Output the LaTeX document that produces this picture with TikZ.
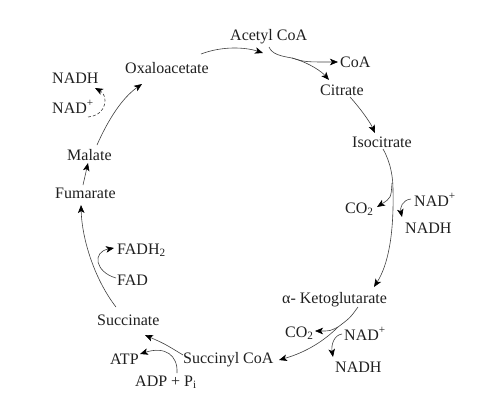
\documentclass[tikz,border=0pt]{standalone}
\usepackage{fontspec}
\setmainfont{Liberation Serif}
\usetikzlibrary{arrows.meta}
\begin{document}
\begin{tikzpicture}[x=1pt,y=-1pt,
  lbl/.style={anchor=base west,inner sep=0pt,text=black!88,font=\fontsize{16}{19}\selectfont},
  rxline/.style={draw=black!75,line width=0.6pt},
  rx/.style={rxline,-{Stealth[length=8pt,width=6.5pt,inset=2pt,color=black]}},
  rxdash/.style={rx,densely dashed}]
\useasboundingbox (0,0) rectangle (493,418);
% metabolites
\node[lbl] (acetyl) at (230,40) {Acetyl CoA};
\node[lbl] (oxa) at (125,73) {Oxaloacetate};
\node[lbl] (coa) at (340,67) {CoA};
\node[lbl] (cit) at (320,95) {Citrate};
\node[lbl] (iso) at (352,147) {Isocitrate};
\node[lbl] (nadA) at (414,206) {NAD\textsuperscript{+}};
\node[lbl] (coA) at (345,213) {CO\textsubscript{2}};
\node[lbl] (nadhA) at (405,233) {NADH};
\node[lbl] (keto) at (282,303) {α- Ketoglutarate};
\node[lbl] (coB) at (285,337) {CO\textsubscript{2}};
\node[lbl] (nadB) at (344,340) {NAD\textsuperscript{+}};
\node[lbl] (nadhB) at (335,372) {NADH};
\node[lbl] (succoa) at (183,363) {Succinyl CoA};
\node[lbl] (atp) at (110,364) {ATP};
\node[lbl] (adp) at (135,386) {ADP + P\textsubscript{i}};
\node[lbl] (succ) at (97,325) {Succinate};
\node[lbl] (fad) at (117,285) {FAD};
\node[lbl] (fadh) at (117,254) {FADH\textsubscript{2}};
\node[lbl] (fum) at (55,198) {Fumarate};
\node[lbl] (mal) at (67,160) {Malate};
\node[lbl] (nadC) at (52,113) {NAD\textsuperscript{+}};
\node[lbl] (nadhC) at (52,83) {NADH};
% branch points
\coordinate (bA) at (292,58);
\coordinate (bB) at (393,190);
\coordinate (bC) at (338,327);
% connectors
\draw[rx] ([shift={(76,-19)}]oxa.base west) .. controls (222,46) and (245,47) .. ([shift={(33,13)}]acetyl.base west);
\draw[rxline] ([shift={(39,7)}]acetyl.base west) .. controls (272,54) and (280,56) .. (bA);
\draw[rx] (bA) .. controls (310,63) and (322,72) .. ([shift={(9,-15)}]cit.base west);
\draw[rx] (bA) .. controls (305,62) .. ([shift={(-2,-5)}]coa.base west);
\draw[rx] ([shift={(30,2)}]cit.base west) .. controls (360,108) and (370,122) .. ([shift={(23,-14)}]iso.base west);
\draw[rxline] ([shift={(31,2)}]iso.base west) .. controls (391,163) and (393,178) .. (bB);
\draw[rx] (bB) .. controls (394,235) and (388,265) .. ([shift={(92,-16)}]keto.base west);
\draw[rx] (392,183) .. controls (391,198) .. ([shift={(32,-6)}]coA.base west);
\draw[rx] ([shift={(-3,-7)}]nadA.base west) .. controls (402,200) and (400,208) .. ([shift={(-3,-16)}]nadhA.base west);
\draw[rxline] ([shift={(76,4)}]keto.base west) .. controls (350,318) .. (bC);
\draw[rx] (bC) .. controls (320,345) and (300,354) .. ([shift={(96,-3)}]succoa.base west);
\draw[rx] (bC) .. controls (330,331) .. ([shift={(30,-6)}]coB.base west);
\draw[rx] ([shift={(-2,-6)}]nadB.base west) .. controls (334,335) and (331,345) .. ([shift={(-2,-15)}]nadhB.base west);
\draw[rx] ([shift={(0,-8)}]succoa.base west) .. controls (165,344) .. ([shift={(48,10)}]succ.base west);
\draw[rx] ([shift={(42,-13)}]adp.base west) .. controls (178,355) and (165,346) .. ([shift={(30,-10)}]atp.base west);
\draw[rx] ([shift={(19,-18)}]succ.base west) .. controls (95,280) and (82,240) .. ([shift={(26,7)}]fum.base west);
\draw[rx] ([shift={(-1,-7)}]fad.base west) .. controls (95,272) and (92,252) .. ([shift={(-3,-6)}]fadh.base west);
\draw[rx] ([shift={(28,-13)}]fum.base west) -- ([shift={(21,3)}]mal.base west);
\draw[rx] ([shift={(30,-15)}]mal.base west) .. controls (108,120) and (122,98) .. ([shift={(17,11)}]oxa.base west);
\draw[rxdash] ([shift={(36,4)}]nadC.base west) .. controls (108,115) and (108,95) .. ([shift={(43,5)}]nadhC.base west);
\end{tikzpicture}
\end{document}
